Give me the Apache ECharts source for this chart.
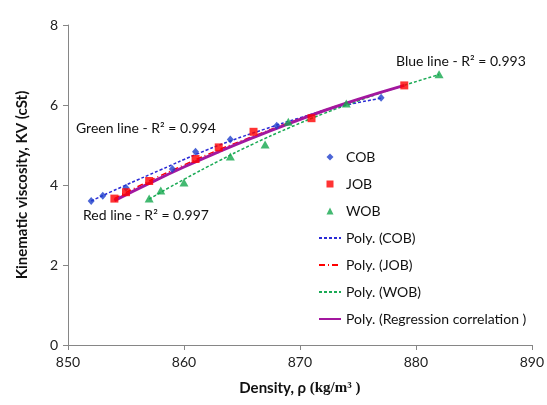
<!DOCTYPE html>
<html>
<head>
<meta charset="utf-8">
<script src="https://cdn.jsdelivr.net/npm/echarts@6/dist/echarts.min.js"></script>
<style>
  html, body { margin: 0; padding: 0; background: #fff; }
  #viscChart { width: 547px; height: 405px; }
</style>
</head>
<body>
<div id="viscChart"></div>
<script>
// measured points [density, KV]
const cob = [[852.0, 3.60], [853.0, 3.73], [855.0, 3.93], [859.0, 4.40], [861.0, 4.83], [864.0, 5.14], [868.0, 5.48], [877.0, 6.18]];
const job = [[854.0, 3.66], [855.0, 3.82], [857.0, 4.10], [861.0, 4.65], [863.0, 4.94], [866.0, 5.33], [871.0, 5.67], [879.0, 6.49]];
const wob = [[857.0, 3.66], [858.0, 3.86], [860.0, 4.06], [864.0, 4.71], [867.0, 5.01], [869.0, 5.58], [874.0, 6.04], [882.0, 6.77]];

// trend lines
const polyCob = [[852, 3.60], [855, 4.00], [858, 4.38], [861, 4.76], [864, 5.10], [867, 5.40], [870, 5.68], [873, 5.93], [877, 6.17]];
const polyJob = [[854, 3.66], [857, 4.10], [860, 4.50], [863, 4.88], [866, 5.22], [869, 5.55], [872, 5.86], [875, 6.14], [879, 6.49]];
const polyWob = [[857, 3.65], [860, 4.14], [863, 4.60], [866, 5.03], [869, 5.42], [872, 5.78], [875, 6.10], [878, 6.40], [882, 6.76]];
const regression = [[854, 3.61], [857, 4.04], [860, 4.45], [863, 4.83], [866, 5.19], [869, 5.53], [872, 5.85], [875, 6.14], [879, 6.49]];

const xTicks = [850, 890, 10];
const yTicks = [0, 8, 2];

const font = "Lato";
let myChart = echarts.init(document.getElementById("viscChart"));

const trend = (name, data, color, type, width) => ({
  type: "line",
  name: name,
  data: data,
  smooth: true,
  showSymbol: false,
  symbol: "none",
  z: 2,
  lineStyle: { color: color, type: type, width: width },
  itemStyle: { color: color },
});

// legend entries: scatter ones get a small symbol, lines only the stroke
const markIcon = (name, path) => ({ name: name, icon: path });
const lineIcon = (name) => ({ name: name, itemStyle: { opacity: 0 } });

let option = {
  animation: false,
  backgroundColor: "#fff",
  grid: { left: 68, right: 14, top: 25, bottom: 60 },
  xAxis: {
    type: "value",
    min: xTicks[0],
    max: xTicks[1],
    interval: xTicks[2],
    splitLine: { show: false },
    axisLine: { lineStyle: { color: "#868686" } },
    axisTick: { length: 5, lineStyle: { color: "#868686" } },
    axisLabel: { color: "#222", fontFamily: font, fontSize: 14, margin: 10 },
    name: "{a|Density, ρ }{b|(kg/m³ )}",
    nameLocation: "middle",
    nameGap: 36,
    nameTextStyle: {
      rich: {
        a: { fontFamily: font, fontWeight: "bold", fontSize: 15, color: "#111" },
        b: { fontFamily: "Liberation Serif", fontWeight: "bold", fontSize: 15, color: "#111" },
      },
    },
  },
  yAxis: {
    type: "value",
    min: yTicks[0],
    max: yTicks[1],
    interval: yTicks[2],
    splitLine: { show: false },
    axisLine: { show: true, lineStyle: { color: "#868686" } },
    axisTick: { show: true, length: 5, lineStyle: { color: "#868686" } },
    axisLabel: { color: "#222", fontFamily: font, fontSize: 14, margin: 10 },
    name: "Kinematic viscosity, KV (cSt)",
    nameLocation: "middle",
    nameGap: 38,
    nameTextStyle: { fontFamily: font, fontWeight: "bold", fontSize: 15, color: "#111" },
  },
  legend: {
    orient: "vertical",
    left: 313,
    top: 145,
    itemWidth: 22,
    itemHeight: 7,
    itemGap: 13,
    symbolKeepAspect: true,
    textStyle: { fontFamily: font, fontSize: 14, color: "#111" },
    data: [
      markIcon("COB", "path://M4,0L8,4L4,8L0,4Z"),
      markIcon("JOB", "path://M0,0H8V8H0Z"),
      markIcon("WOB", "path://M4,0L8,8H0Z"),
      lineIcon("Poly. (COB)"),
      lineIcon("Poly. (JOB)"),
      lineIcon("Poly. (WOB)"),
      lineIcon("Poly. (Regression correlation )"),
    ],
  },
  graphic: [
    { type: "text", left: 76, top: 121, style: { text: "Green line - R² = 0.994", font: "14px Lato", fill: "#111" } },
    { type: "text", left: 83, top: 208, style: { text: "Red line - R² = 0.997", font: "14px Lato", fill: "#111" } },
    { type: "text", left: 396, top: 54, style: { text: "Blue line - R² = 0.993", font: "14px Lato", fill: "#111" } },
  ],
  series: [
    trend("Poly. (COB)", polyCob, "#2b2bd6", [3, 2], 1.5),
    trend("Poly. (JOB)", polyJob, "#ff0000", [6, 3, 1, 3], 1.5),
    trend("Poly. (WOB)", polyWob, "#1aaa55", [3, 2], 1.5),
    trend("Poly. (Regression correlation )", regression, "#a3179f", "solid", 3),
    {
      type: "scatter",
      name: "COB",
      data: cob,
      symbol: "diamond",
      symbolSize: [7, 8],
      z: 3,
      itemStyle: { color: "#1e3fcc" },
    },
    {
      type: "scatter",
      name: "JOB",
      data: job,
      symbol: "rect",
      symbolSize: 8,
      z: 3,
      itemStyle: { color: "#ff0000" },
    },
    {
      type: "scatter",
      name: "WOB",
      data: wob,
      symbol: "triangle",
      symbolSize: [9, 8],
      z: 3,
      itemStyle: { color: "#14a84e" },
    },
  ],
};

option && myChart.setOption(option);
</script>
</body>
</html>
